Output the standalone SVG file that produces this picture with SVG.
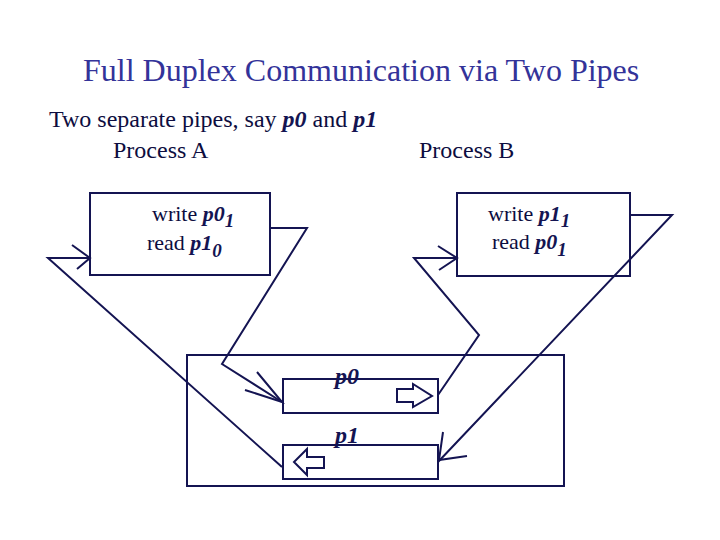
<svg xmlns="http://www.w3.org/2000/svg" width="720" height="540" viewBox="0 0 720 540">
<style>
.t{font-family:"Liberation Serif","Times New Roman",serif;fill:#0d0d40}
.bi{font-weight:bold;font-style:italic;fill:#141452}
.ln{fill:none;stroke:#141452;stroke-width:2;stroke-linejoin:miter}
.box{fill:#fff;stroke:#141452;stroke-width:2}
.blk{fill:#fff;stroke:#141452;stroke-width:2}
</style>
<rect width="720" height="540" fill="#fff"/>
<text class="t" x="83" y="81" font-size="32" style="fill:#333399">Full Duplex Communication via Two Pipes</text>
<text class="t" x="49" y="127" font-size="24">Two separate pipes, say <tspan class="bi">p0</tspan> and <tspan class="bi">p1</tspan></text>
<text class="t" x="113" y="158" font-size="24">Process A</text>
<text class="t" x="419" y="158" font-size="24">Process B</text>

<g id="kernel">
<rect class="box" x="187" y="355" width="377" height="131"/>
</g>
<g id="processA">
<rect class="box" x="90" y="193" width="180" height="82"/>
<text class="t" x="152" y="221" font-size="22">write <tspan class="bi">p0</tspan><tspan class="bi" font-size="19" dy="6">1</tspan></text>
<text class="t" x="147" y="250" font-size="22">read <tspan class="bi">p1</tspan><tspan class="bi" font-size="19" dy="7">0</tspan></text>
</g>
<g id="processB">
<rect class="box" x="457" y="193" width="173" height="83"/>
<text class="t" x="488" y="221" font-size="22">write <tspan class="bi">p1</tspan><tspan class="bi" font-size="19" dy="6">1</tspan></text>
<text class="t" x="492" y="249" font-size="22">read <tspan class="bi">p0</tspan><tspan class="bi" font-size="19" dy="7">1</tspan></text>
</g>
<g id="pipe-p0">
<rect class="box" x="283" y="379" width="155" height="34"/>
<text class="t bi" x="335" y="384" font-size="24">p0</text>
<polygon class="blk" points="397,389 413,389 413,384 432,396 413,407 413,402 397,402"/>
</g>
<g id="pipe-p1">
<rect class="box" x="283" y="445" width="155" height="34"/>
<text class="t bi" x="335" y="443" font-size="24">p1</text>
<polygon class="blk" points="324,457 307,457 307,449 294,462 307,475 307,468 324,468"/>
</g>
<g id="connectors">
<polyline class="ln" points="270,228 307,228 222,364 282,402"/>
<polyline class="ln" points="257,372 282,402 245,390"/>
<polyline class="ln" points="282,467 48,258 90,258"/>
<polyline class="ln" points="72,245 90,258 77,269"/>
<polyline class="ln" points="438,395 479,335 414,258 457,258"/>
<polyline class="ln" points="438,246 457,258 439,270"/>
<polyline class="ln" points="630,215 672,215 438,462"/>
<polyline class="ln" points="443,432 439,460 467,456"/>
</g>
</svg>
